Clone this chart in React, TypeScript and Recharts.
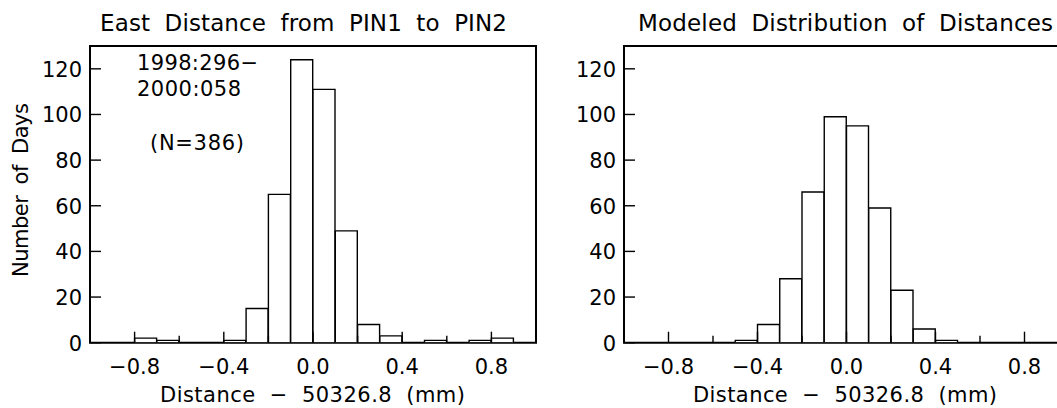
import React from 'react';
import { BarChart, Bar, XAxis, YAxis, ReferenceArea } from 'recharts';

// Bin centres (bin width 0.1 mm)
const BIN_CENTERS = [-0.95, -0.85, -0.75, -0.65, -0.55, -0.45, -0.35, -0.25, -0.15, -0.05, 0.05, 0.15, 0.25, 0.35, 0.45, 0.55, 0.65, 0.75, 0.85, 0.95];
const OBSERVED_COUNTS = [0, 0, 2, 1, 0, 0, 1, 15, 65, 124, 111, 49, 8, 3, 0, 1, 0, 1, 2, 0];
const MODELED_COUNTS = [0, 0, 0, 0, 0, 1, 8, 28, 66, 99, 95, 59, 23, 6, 1, 0, 0, 0, 0, 0];

const X_TICKS = [-0.8, -0.6, -0.4, -0.2, 0, 0.2, 0.4, 0.6, 0.8];
const X_MAJOR = [-0.8, -0.4, 0, 0.4, 0.8];
const X_MAJOR_LABELS = ['\u22120.8', '\u22120.4', '0.0', '0.4', '0.8'];
const Y_TICKS = [0, 20, 40, 60, 80, 100, 120];
const Y_TICK_LABELS = ['0', '20', '40', '60', '80', '100', '120'];
const X_DOMAIN = [-1, 1];
const Y_DOMAIN = [0, 130];

const LEFT_TITLE = 'East Distance from PIN1 to PIN2';
const RIGHT_TITLE = 'Modeled Distribution of Distances';
const X_LABEL = 'Distance \u2212 50326.8 (mm)';
const Y_LABEL = 'Number of Days';
const NOTE_LINES = ['1998:296\u2212', '2000:058', '(N=386)'];

const observedData = BIN_CENTERS.map((x, i) => ({ x, count: OBSERVED_COUNTS[i] }));
const modeledData = BIN_CENTERS.map((x, i) => ({ x, count: MODELED_COUNTS[i] }));

const FONT = 'DejaVu Sans';

const XTick = (props: any) => {
  const { x, y, payload } = props;
  const v = payload.value;
  const idx = X_MAJOR.findIndex((m) => Math.abs(m - v) < 1e-9);
  const major = idx >= 0;
  return (
    <g>
      <line x1={x} x2={x} y1={y} y2={y - (major ? 11 : 7)} stroke="#000" strokeWidth={1.4} />
      {major && (
        <text x={x} y={y + 31.5} textAnchor="middle" fontFamily={FONT} fontSize={21} fill="#000">
          {X_MAJOR_LABELS[idx]}
        </text>
      )}
    </g>
  );
};

const YTick = (props: any) => {
  const { x, y, payload } = props;
  const idx = Y_TICKS.indexOf(payload.value);
  return (
    <g>
      <line x1={x} x2={x + 11} y1={y} y2={y} stroke="#000" strokeWidth={1.4} />
      <text x={x - 8} y={y + 7.8} textAnchor="end" fontFamily={FONT} fontSize={21} fill="#000">
        {Y_TICK_LABELS[idx]}
      </text>
    </g>
  );
};

const Histogram = ({ data, marginLeft, marginRight }: { data: any[]; marginLeft: number; marginRight: number }) => (
  <BarChart
    width={560}
    height={408}
    data={data}
    margin={{ top: 46, right: marginRight, bottom: 35.3, left: marginLeft }}
    barCategoryGap={0}
    barGap={0}
  >
    <XAxis
      dataKey="x"
      type="number"
      domain={X_DOMAIN}
      ticks={X_TICKS}
      interval={0}
      allowDataOverflow
      axisLine={false}
      tickLine={false}
      tickSize={0}
      tickMargin={0}
      height={30}
      tick={<XTick />}
    />
    <YAxis
      type="number"
      domain={Y_DOMAIN}
      ticks={Y_TICKS}
      interval={0}
      allowDataOverflow
      axisLine={false}
      tickLine={false}
      tickSize={0}
      tickMargin={0}
      width={60}
      tick={<YTick />}
    />
    <Bar dataKey="count" fill="#fff" stroke="#000" strokeWidth={1.4} isAnimationActive={false} />
    <ReferenceArea x1={X_DOMAIN[0]} x2={X_DOMAIN[1]} y1={Y_DOMAIN[0]} y2={Y_DOMAIN[1]} fill="none" fillOpacity={0} stroke="#000" strokeWidth={2} ifOverflow="visible" />
  </BarChart>
);

export default function App() {
  const textProps = { fontFamily: FONT, fill: '#000' };
  return (
    <div style={{ position: 'absolute', left: 0, top: 0, width: 1057, height: 408, overflow: 'hidden', background: '#fff' }}>
      <div style={{ position: 'absolute', left: 0, top: 0 }}>
        <Histogram data={observedData} marginLeft={30} marginRight={24} />
      </div>
      <div style={{ position: 'absolute', left: 530, top: 0 }}>
        <Histogram data={modeledData} marginLeft={34} marginRight={21} />
      </div>
      <svg width={1057} height={408} style={{ position: 'absolute', left: 0, top: 0, pointerEvents: 'none' }}>
        <text x={100} y={31} fontSize={23} textLength={407} lengthAdjust="spacing" wordSpacing={7} {...textProps}>{LEFT_TITLE}</text>
        <text x={638} y={31} fontSize={23} textLength={415} lengthAdjust="spacing" wordSpacing={7} {...textProps}>{RIGHT_TITLE}</text>
        <text x={160} y={402} fontSize={21} textLength={305} lengthAdjust="spacing" wordSpacing={7} {...textProps}>{X_LABEL}</text>
        <text x={693} y={402} fontSize={21} textLength={304} lengthAdjust="spacing" wordSpacing={7} {...textProps}>{X_LABEL}</text>
        <text x={0} y={0} transform="translate(28,277) rotate(-90)" fontSize={21} textLength={174} lengthAdjust="spacing" wordSpacing={5} {...textProps}>{Y_LABEL}</text>
        <text x={137} y={70} fontSize={21} textLength={121} lengthAdjust="spacing" {...textProps}>{NOTE_LINES[0]}</text>
        <text x={137} y={96} fontSize={21} textLength={104} lengthAdjust="spacing" {...textProps}>{NOTE_LINES[1]}</text>
        <text x={150} y={150} fontSize={21} textLength={94} lengthAdjust="spacing" {...textProps}>{NOTE_LINES[2]}</text>
      </svg>
    </div>
  );
}
